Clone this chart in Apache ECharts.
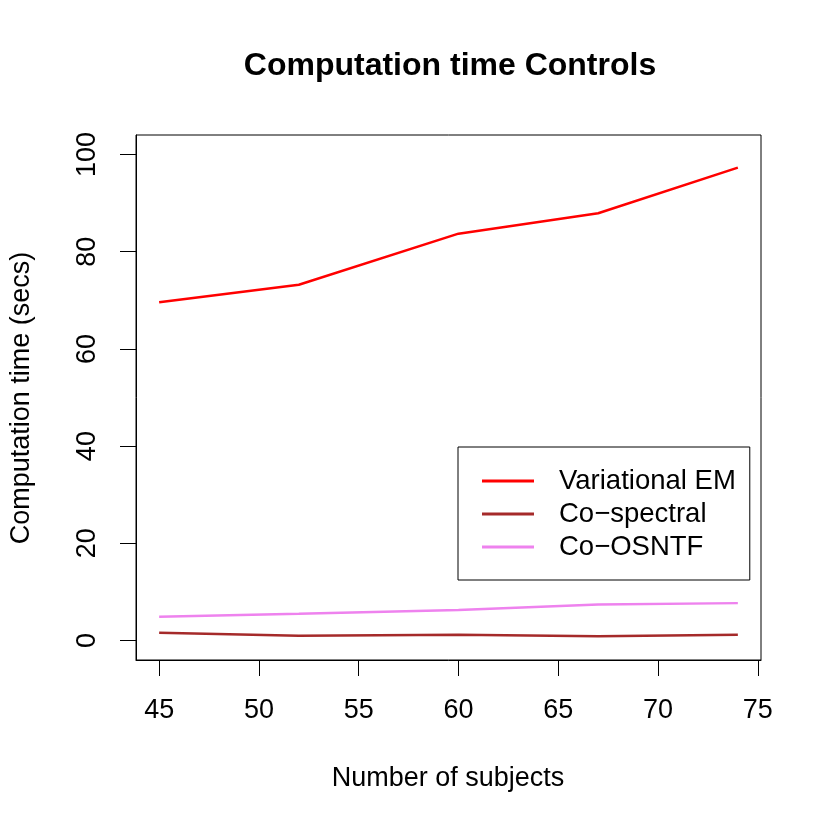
<!DOCTYPE html>
<html>
<head>
<meta charset="utf-8">
<script src="https://cdn.jsdelivr.net/npm/echarts@6/dist/echarts.min.js"></script>
<style>
  html, body { margin: 0; padding: 0; background: #fff; }
  #main { width: 830px; height: 830px; }
</style>
</head>
<body>
<div id="main"></div>
<script>
// Data
var subjects = [45, 52, 60, 67, 74];
var variationalEM = [69.6, 73.2, 83.7, 87.9, 97.3];
var coSpectral = [1.6, 1.0, 1.2, 0.9, 1.2];
var coOSNTF = [4.9, 5.5, 6.3, 7.4, 7.7];
var xTicks = [45, 50, 55, 60, 65, 70, 75];
var yTicks = [0, 20, 40, 60, 80, 100];

var FONT = 'Liberation Sans, Arial, Helvetica, sans-serif';

function pairs(ys) {
    return subjects.map(function (x, i) { return [x, ys[i]]; });
}

var myChart = echarts.init(document.getElementById('main'));

myChart.setOption({
    animation: false,
    backgroundColor: '#fff',
    grid: {
        left: 136,
        right: 69,
        top: 135,
        bottom: 170,
        show: true,
        borderColor: '#000',
        borderWidth: 1
    },
    graphic: [
        {
            type: 'text',
            x: 450,
            y: 66,
            style: {
                text: 'Computation time Controls',
                font: 'bold 32px ' + FONT,
                fill: '#000',
                textAlign: 'center',
                textVerticalAlign: 'middle'
            }
        },
        {
            type: 'text',
            x: 448,
            y: 779,
            style: {
                text: 'Number of subjects',
                font: '27px ' + FONT,
                fill: '#000',
                textAlign: 'center',
                textVerticalAlign: 'middle'
            }
        },
        {
            type: 'text',
            x: 22,
            y: 398,
            rotation: Math.PI / 2,
            style: {
                text: 'Computation time (secs)',
                font: '27px ' + FONT,
                fill: '#000',
                textAlign: 'center',
                textVerticalAlign: 'middle'
            }
        }
    ],
    legend: {
        orient: 'vertical',
        left: 458,
        top: 447,
        padding: [20, 14, 19, 24],
        itemGap: 5,
        itemWidth: 52,
        itemHeight: 3,
        icon: 'rect',
        borderColor: '#000',
        borderWidth: 1,
        textStyle: {
            fontFamily: FONT,
            fontSize: 27.5,
            lineHeight: 27,
            color: '#000',
            padding: [0, 0, 0, 20]
        },
        data: ['Variational EM', 'Co\u2212spectral', 'Co\u2212OSNTF']
    },
    xAxis: {
        type: 'value',
        min: 43.84,
        max: 75.16,
        axisLine: { show: true, onZero: false, lineStyle: { color: '#000', width: 1 } },
        splitLine: { show: false },
        axisTick: {
            show: true,
            length: 16,
            customValues: xTicks,
            lineStyle: { color: '#000', width: 1 }
        },
        axisLabel: {
            customValues: xTicks,
            margin: 37,
            color: '#000',
            fontFamily: FONT,
            fontSize: 27
        }
    },
    yAxis: {
        type: 'value',
        min: -4,
        max: 104,
        axisLine: { show: true, onZero: false, lineStyle: { color: '#000', width: 1 } },
        splitLine: { show: false },
        axisTick: {
            show: true,
            length: 16,
            customValues: yTicks,
            lineStyle: { color: '#000', width: 1 }
        },
        axisLabel: {
            customValues: yTicks,
            rotate: 90,
            margin: 35,
            color: '#000',
            fontFamily: FONT,
            fontSize: 27
        }
    },
    series: [
        {
            name: 'Variational EM',
            type: 'line',
            data: pairs(variationalEM),
            symbol: 'none',
            lineStyle: { color: '#FF0000', width: 2.5 },
            itemStyle: { color: '#FF0000' }
        },
        {
            name: 'Co\u2212spectral',
            type: 'line',
            data: pairs(coSpectral),
            symbol: 'none',
            lineStyle: { color: '#A52A2A', width: 2.5 },
            itemStyle: { color: '#A52A2A' }
        },
        {
            name: 'Co\u2212OSNTF',
            type: 'line',
            data: pairs(coOSNTF),
            symbol: 'none',
            lineStyle: { color: '#EE82EE', width: 2.5 },
            itemStyle: { color: '#EE82EE' }
        }
    ]
});
</script>
</body>
</html>
